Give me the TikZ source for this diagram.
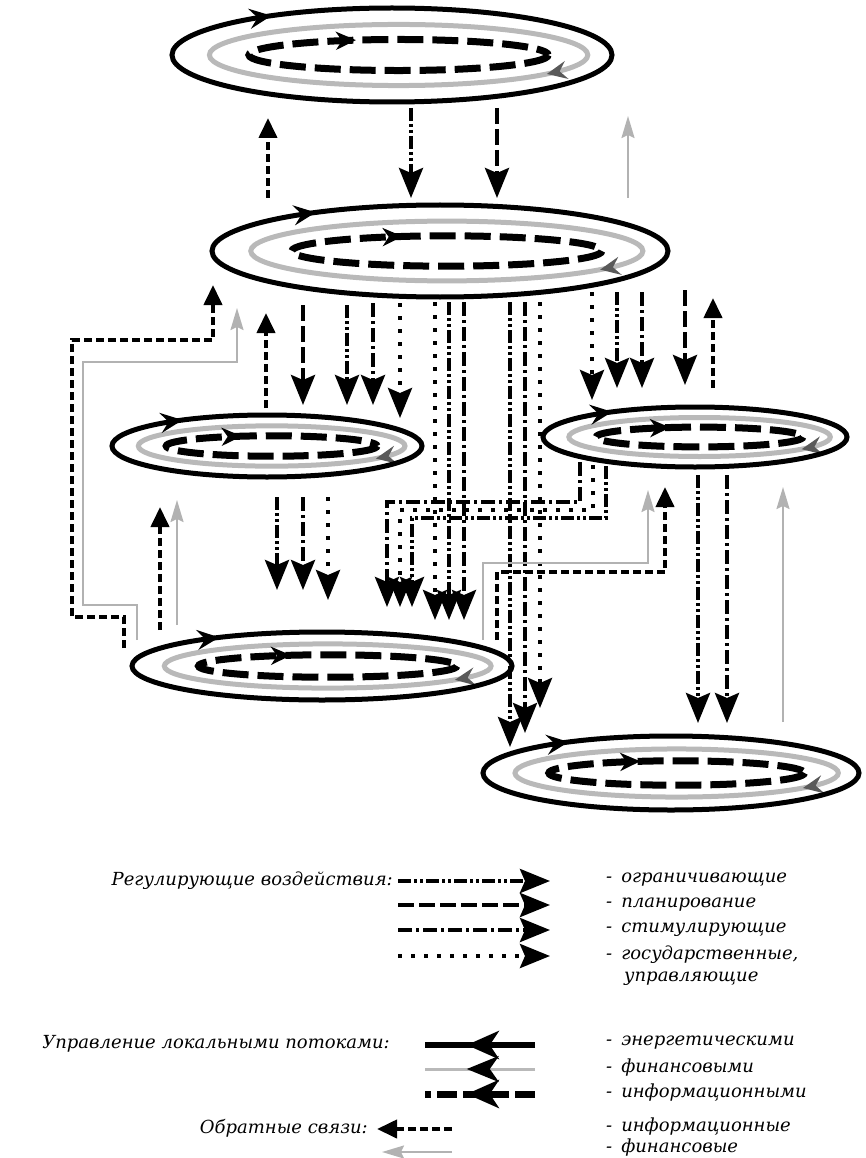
\documentclass[tikz,border=0pt]{standalone}
\usepackage{fontspec}
\setmainfont{DejaVu Serif}
\usetikzlibrary{arrows.meta,decorations.markings}
\tikzset{
 tipmark/.style 2 args={postaction={decorate}, decoration={markings, mark=at position #1 with {\arrow{#2}}}},
 reg/.style={line width=4pt, -{Stealth[length=30pt,width=24pt,inset=5pt]}},
 restr/.style={reg, dash pattern=on 13pt off 3pt on 3pt off 3pt on 3pt off 3pt},
 plan/.style={reg, dash pattern=on 16pt off 5pt},
 stim/.style={reg, dash pattern=on 14pt off 4pt on 3pt off 4pt},
 gov/.style={reg, dash pattern=on 4pt off 9pt},
 fbi/.style={line width=4pt, dash pattern=on 8pt off 4pt, -{Triangle[length=20pt,width=18pt]}},
 fbf/.style={line width=2pt, draw=gray!60, -{Stealth[length=22pt,width=13pt,inset=3pt]}},
 lbl/.style={font=\itshape\fontsize{18}{21}\selectfont, inner sep=0pt},
}
\newcommand\ringsys[5]{%
 \coordinate (#1) at (#2,#3);
 \draw[gray!55, line width=5pt, tipmark={0.06}{Stealth[color=gray!70!black,length=20pt,width=18pt,inset=7pt]}] ({#2+0.03*#4},#3) ellipse [x radius={0.86*#4}, y radius={0.65*#5}];
 \draw[line width=7pt, dash pattern=on 26pt off 9pt, tipmark={0.68}{Stealth[length=20pt,width=18pt,inset=6pt]}] ({#2+0.03*#4},#3) ellipse [x radius={0.68*#4}, y radius={0.33*#5}];
 \draw[line width=5pt, tipmark={0.62}{Stealth[length=22pt,width=20pt,inset=8pt]}] (#2,#3) ellipse [x radius=#4, y radius=#5];
}
\begin{document}
\begin{tikzpicture}[x=1pt,y=-1pt]
\useasboundingbox (0,0) rectangle (866,1158);
% systems
\ringsys{E1}{392}{55}{220}{47}
\ringsys{E2}{440}{251}{228}{46}
\ringsys{E3}{267}{446}{155}{31}
\ringsys{E4}{695}{437}{152}{30}
\ringsys{E5}{322}{666}{190}{34}
\ringsys{E6}{671}{773}{188}{37}
% E1 <-> E2
\draw[fbi] (268,198) -- (268,118);
\draw[fbf] (628,198) -- (628,116);
\draw[restr] (411,108) -- (411,198);
\draw[plan] (497,108) -- (497,198);
% E2 -> E3
\draw[fbi] (266,408) -- (266,313);
\draw[plan] (303,305) -- (303,405);
\draw[restr] (347,305) -- (347,405);
\draw[stim] (373,303) -- (373,405);
\draw[gov] (400,303) -- (400,418);
% left feedback paths E5 -> E2
\draw[fbi] (124,648) -- (124,617) -- (72,617) -- (72,340) -- (213,340) -- (213,285);
\draw[fbf] (137,640) -- (137,605) -- (83,605) -- (83,362) -- (237,362) -- (237,308);
% E2 -> E4
\draw[gov] (592,292) -- (592,400);
\draw[restr] (617,292) -- (617,388);
\draw[stim] (642,292) -- (642,388);
\draw[plan] (685,290) -- (685,385);
\draw[fbi] (713,388) -- (713,298);
% long lines E2 -> E5
\draw[gov] (435,302) -- (435,620);
\draw[restr] (449,302) -- (449,620);
\draw[stim] (464,302) -- (464,620);
% long lines E2 -> E6
\draw[restr] (510,302) -- (510,747);
\draw[stim] (525,302) -- (525,733);
\draw[gov] (540,302) -- (540,708);
% E4 -> E5 routed
\draw[stim] (580,462) -- (580,502) -- (387,502) -- (387,607);
\draw[gov] (593,465) -- (593,510) -- (400,510) -- (400,607);
\draw[restr] (606,466) -- (606,518) -- (412,518) -- (412,607);
% E4 -> E6
\draw[restr] (698,475) -- (698,723);
\draw[stim] (727,475) -- (727,723);
\draw[fbf] (783,722) -- (783,487);
% E3 -> E5
\draw[restr] (277,497) -- (277,590);
\draw[stim] (303,497) -- (303,590);
\draw[gov] (328,497) -- (328,600);
\draw[fbi] (160,630) -- (160,507);
\draw[fbf] (177,625) -- (177,500);
% E5 -> E4 feedback
\draw[fbf] (483,640) -- (483,563) -- (648,563) -- (648,490);
\draw[fbi] (497,640) -- (497,572) -- (665,572) -- (665,487);
% legend
\node[lbl, anchor=east] (tReg) at (393,881) {Регулирующие воздействия:};
\draw[restr] (398,881) -- (550,881);
\draw[plan] (398,905) -- (550,905);
\draw[stim] (398,930) -- (550,930);
\draw[gov] (398,956) -- (550,956);
\node[lbl, anchor=west] (t1) at (606,880) {-\hspace{9pt}ограничивающие};
\node[lbl, anchor=west] (t2) at (606,905) {-\hspace{9pt}планирование};
\node[lbl, anchor=west] (t3) at (606,930) {-\hspace{9pt}стимулирующие};
\node[lbl, anchor=west] (t4) at (606,955) {-\hspace{9pt}государственные,};
\node[lbl, anchor=west] (t5) at (624,979) {управляющие};
\node[lbl, anchor=east] (tLoc) at (390,1044) {Управление локальными потоками:};
\draw[line width=6pt, tipmark={0.62}{Stealth[length=32pt,width=28pt,inset=9pt]}] (535,1045) -- (425,1045);
\draw[line width=3pt, gray!55, tipmark={0.62}{Stealth[color=black,length=32pt,width=26pt,inset=9pt]}] (535,1069) -- (425,1069);
\draw[line width=7pt, dash pattern=on 20pt off 6pt, tipmark={0.62}{Stealth[length=32pt,width=28pt,inset=9pt]}] (535,1094) -- (425,1094);
\node[lbl, anchor=west] (t6) at (606,1043) {-\hspace{9pt}энергетическими};
\node[lbl, anchor=west] (t7) at (606,1068) {-\hspace{9pt}финансовыми};
\node[lbl, anchor=west] (t8) at (606,1093) {-\hspace{9pt}информационными};
\node[lbl, anchor=east] (tFb) at (368,1128) {Обратные связи:};
\draw[fbi] (452,1129) -- (377,1129);
\draw[fbf] (452,1152) -- (382,1152);
\node[lbl, anchor=west] (t9) at (606,1127) {-\hspace{9pt}информационные};
\node[lbl, anchor=west] (t10) at (606,1148) {-\hspace{9pt}финансовые};
\end{tikzpicture}
\end{document}
